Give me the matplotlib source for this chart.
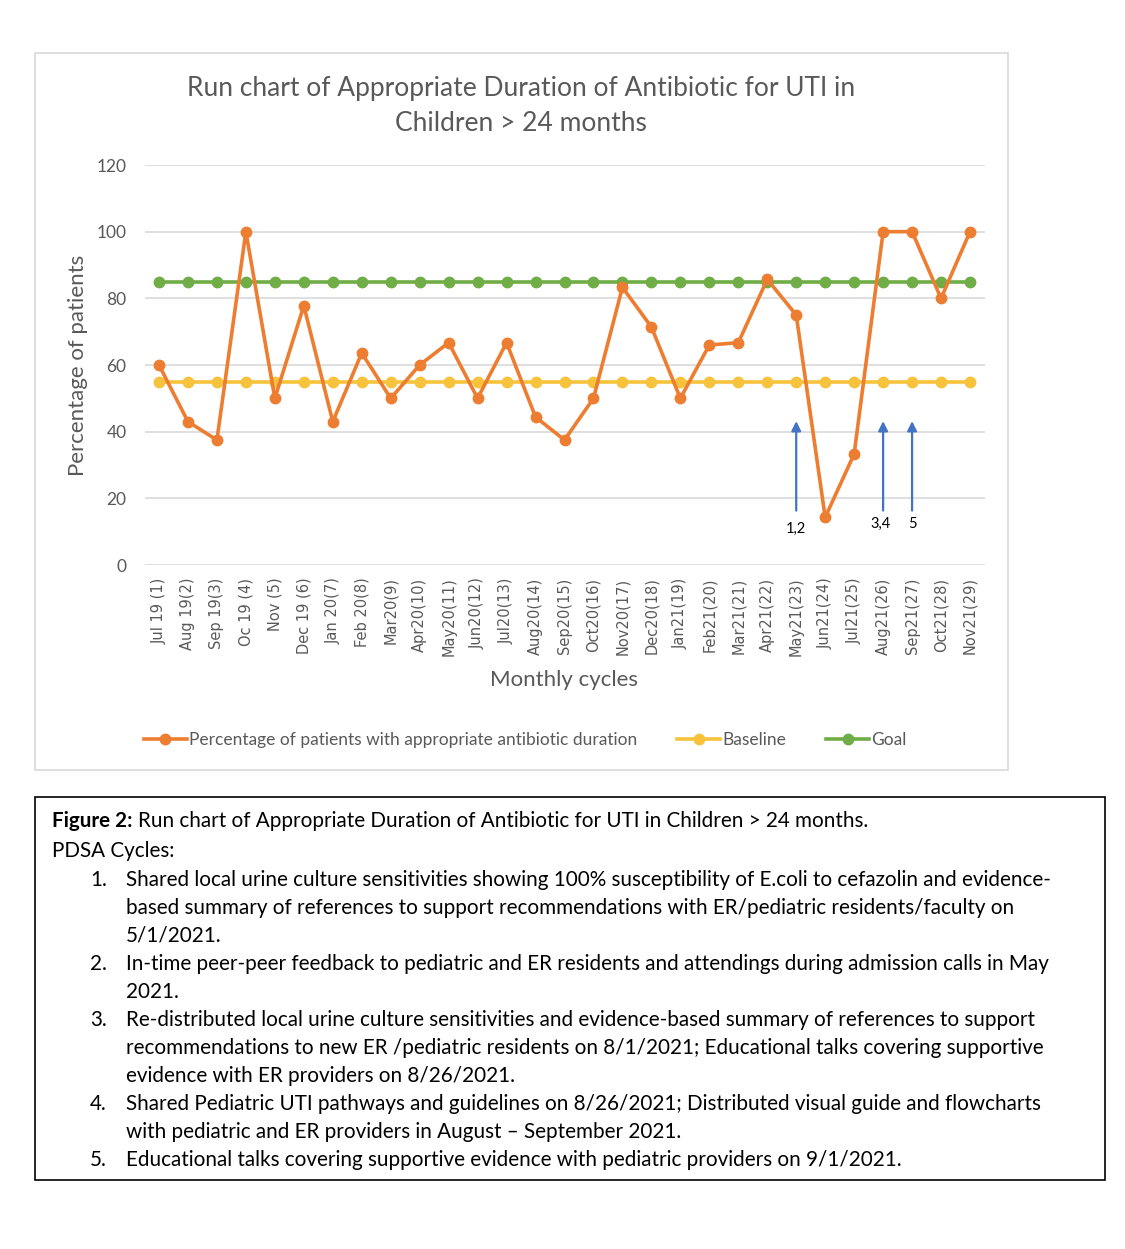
import numpy as np
import matplotlib
matplotlib.use('Agg')
import matplotlib.pyplot as plt
from matplotlib.patches import Rectangle

# -------------------------------
# data
# -------------------------------
months = ['Jul 19 (1)', 'Aug 19(2)', 'Sep 19(3)', 'Oc 19 (4)', 'Nov (5)', 'Dec 19 (6)',
          'Jan 20(7)', 'Feb 20(8)', 'Mar20(9)', 'Apr20(10)', 'May20(11)', 'Jun20(12)',
          'Jul20(13)', 'Aug20(14)', 'Sep20(15)', 'Oct20(16)', 'Nov20(17)', 'Dec20(18)',
          'Jan21(19)', 'Feb21(20)', 'Mar21(21)', 'Apr21(22)', 'May21(23)', 'Jun21(24)',
          'Jul21(25)', 'Aug21(26)', 'Sep21(27)', 'Oct21(28)', 'Nov21(29)']
pct = [60, 43, 37.5, 100, 50, 77.8, 43, 63.6, 50, 60, 66.7, 50, 66.7, 44.4, 37.5,
       50, 83.3, 71.4, 50, 66, 66.7, 85.7, 75, 14.3, 33.3, 100, 100, 80, 100]
baseline = [55] * len(months)
goal = [85] * len(months)

# PDSA arrows: (category index, label)
pdsa_idx = [22, 25, 26]
pdsa_labels = ['1,2', '3,4', '5']

caption_title = 'Run chart of Appropriate Duration of Antibiotic for UTI in Children > 24 months.'
caption_items = [
    ['Shared local urine culture sensitivities showing 100% susceptibility of E.coli to cefazolin and evidence-',
     'based summary of references to support recommendations with ER/pediatric residents/faculty on',
     '5/1/2021.'],
    ['In-time peer-peer feedback to pediatric and ER residents and attendings during admission calls in May',
     '2021.'],
    ['Re-distributed local urine culture sensitivities and evidence-based summary of references to support',
     'recommendations to new ER /pediatric residents on 8/1/2021; Educational talks covering supportive',
     'evidence with ER providers on 8/26/2021.'],
    ['Shared Pediatric UTI pathways and guidelines on 8/26/2021; Distributed visual guide and flowcharts',
     'with pediatric and ER providers in August \u2013 September 2021.'],
    ['Educational talks covering supportive evidence with pediatric providers on 9/1/2021.'],
]

# -------------------------------
# style
# -------------------------------
W, H = 1125, 1249
c_orange = '#ED7D31'
c_yellow = '#F7C33C'
c_green = '#70AD47'
c_grid = '#D9D9D9'
c_text = '#595959'
c_arrow = '#4472C4'
plt.rcParams['font.family'] = ['Lato', 'DejaVu Sans']

fig = plt.figure(figsize=(W / 100, H / 100), dpi=100)


def fx(px):
    return px / W


def fy(py):
    return 1 - py / H


# chart outer frame
fig.patches.append(Rectangle((fx(35), fy(770)), fx(1008) - fx(35), fy(53) - fy(770),
                             transform=fig.transFigure, fill=False, edgecolor=c_grid, lw=1.2))

ax = fig.add_axes([fx(144.5), fy(565), fx(984.5) - fx(144.5), fy(165) - fy(565)])
x = np.arange(len(months))
ax.plot(x, pct, color=c_orange, lw=2.6, marker='o', ms=7.5, zorder=4,
        label='Percentage of patients with appropriate antibiotic duration')
ax.plot(x, baseline, color=c_yellow, lw=2.6, marker='o', ms=7.5, zorder=3, label='Baseline')
ax.plot(x, goal, color=c_green, lw=2.6, marker='o', ms=7.5, zorder=3, label='Goal')

ax.set_xlim(-0.5, len(months) - 0.5)
ax.set_ylim(0, 120)
ax.set_yticks(np.arange(0, 121, 20))
ax.yaxis.grid(True, color=c_grid, lw=1.2)
ax.set_axisbelow(True)
for s in ax.spines.values():
    s.set_visible(False)
ax.set_xticks(x)
ax.set_xticklabels(months, rotation=90, family='DejaVu Sans', fontsize=10.5, color=c_text)
ax.tick_params(axis='both', length=0)
ax.tick_params(axis='x', pad=9)
ax.tick_params(axis='y', labelsize=12.5, labelcolor=c_text, pad=13)
ax.set_ylabel('Percentage of patients', fontsize=16, color=c_text, labelpad=6)
ax.set_xlabel('Monthly cycles', fontsize=16, color=c_text, labelpad=10)
fig.text(fx(521), fy(106), 'Run chart of Appropriate Duration of Antibiotic for UTI in\nChildren > 24 months',
         fontsize=19, color=c_text, ha='center', va='center', linespacing=1.5)

# PDSA arrows
for i, lab in zip(pdsa_idx, pdsa_labels):
    ax.annotate('', xy=(i, 44), xytext=(i, 15.5),
                arrowprops=dict(arrowstyle='-|>', color=c_arrow, lw=1.6, mutation_scale=14))
    ax.text(i - (0.1 if lab == '3,4' else 0), 14.5 if lab != '1,2' else 13, lab,
            ha='center', va='top', fontsize=10.5, color='black')

fig.legend(*ax.get_legend_handles_labels(), loc='center', bbox_to_anchor=(fx(525), fy(740)),
           ncol=3, frameon=False, fontsize=12.5, labelcolor=c_text, handlelength=2.5,
           columnspacing=2.3, handletextpad=0.1)

# caption box
fig.patches.append(Rectangle((fx(35), fy(1180)), fx(1105) - fx(35), fy(797) - fy(1180),
                             transform=fig.transFigure, fill=False, edgecolor='black', lw=1.2))
cap_fs = 14.9
t = fig.text(fx(52), fy(821), 'Figure 2:', fontsize=cap_fs, weight='bold', va='center')
fig.canvas.draw()
bb = t.get_window_extent()
fig.text(bb.x1 / W + fx(5), fy(821), caption_title, fontsize=cap_fs, va='center')
fig.text(fx(52), fy(851), 'PDSA Cycles:', fontsize=cap_fs, va='center')
yline = 880
for n, lines in enumerate(caption_items, 1):
    fig.text(fx(90), fy(yline), f'{n}.', fontsize=cap_fs, va='center')
    for ln in lines:
        fig.text(fx(126), fy(yline), ln, fontsize=cap_fs, va='center')
        yline += 28

fig.savefig('out.png', dpi=100)
